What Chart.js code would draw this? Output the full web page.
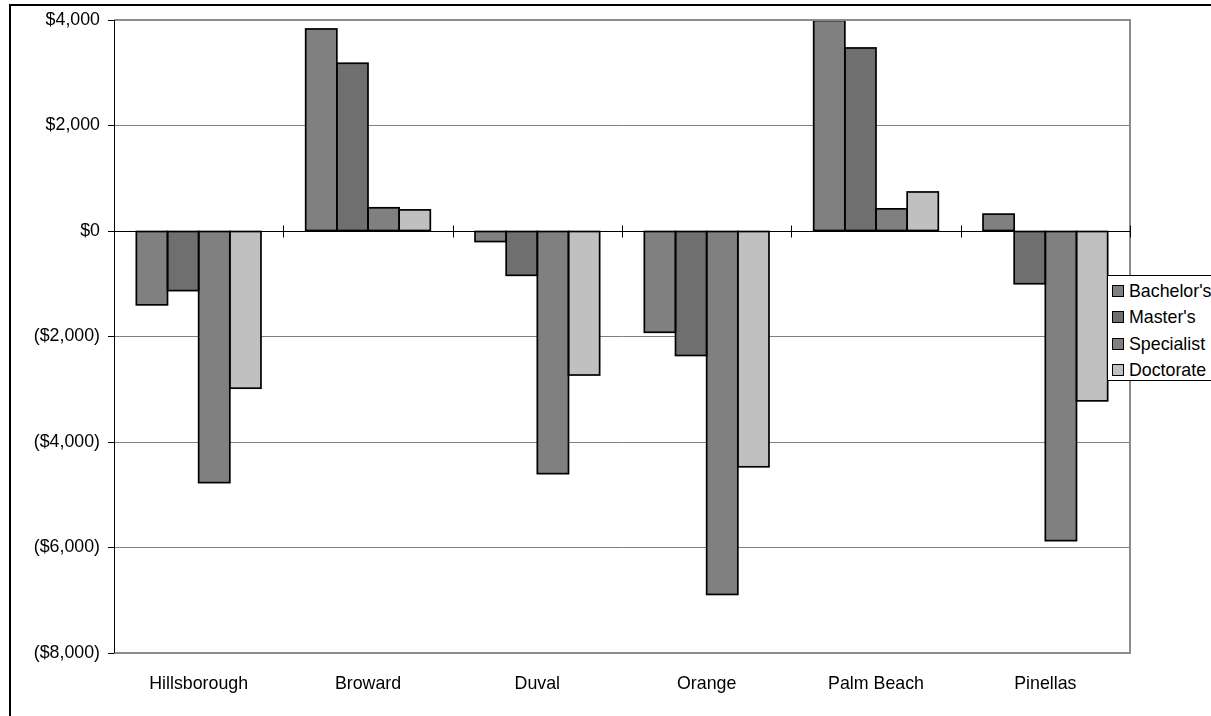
<!DOCTYPE html>
<html>
<head>
<meta charset="utf-8">
<script src="https://cdn.jsdelivr.net/npm/chart.js@4/dist/chart.umd.min.js"></script>
<style>
  html, body { margin: 0; padding: 0; background: #fff; overflow: hidden; }
  #wrap { position: relative; width: 1211px; height: 716px; }
  #frame { position: absolute; left: 9px; top: 4px; width: 1400px; height: 900px;
           border-left: 2px solid #000; border-top: 2px solid #000; pointer-events: none; }
  canvas { position: absolute; left: 0; top: 0; }
  #legend { position: absolute; left: 1107px; top: 275px; width: 140px; height: 106px;
            border: 1px solid #000; background: #fff; box-sizing: border-box;
            font-family: Arial, "Liberation Sans", sans-serif; font-size: 17.8px; color: #000; }
  .li { position: absolute; left: 4px; height: 20px; line-height: 20px; white-space: nowrap; }
  .sw { position: absolute; left: 0; top: 4px; width: 10px; height: 10px; border: 1.5px solid #000; }
  .lt { position: absolute; left: 17px; top: 0; }
</style>
</head>
<body>
<div id="wrap">
  <canvas id="c" width="1211" height="716"></canvas>
  <div id="frame"></div>
  <div id="legend"></div>
</div>
<script>
const categories = ["Hillsborough", "Broward", "Duval", "Orange", "Palm Beach", "Pinellas"];
const seriesNames = ["Bachelor's", "Master's", "Specialist", "Doctorate"];
const bachelors  = [-1400, 3830, -200, -1920, 3990, 320];
const masters    = [-1130, 3180, -840, -2360, 3470, -1000];
const specialist = [-4770, 440, -4600, -6890, 420, -5870];
const doctorate  = [-2980, 400, -2730, -4470, 740, -3220];
const yTicks = [4000, 2000, 0, -2000, -4000, -6000, -8000];
const seriesColors = ["#808080", "#6f6f6f", "#808080", "#c0c0c0"];

const FONT = "Arial, 'Liberation Sans', sans-serif";
const FS = 17.8;

function fmtMoney(v) {
  const s = "$" + Math.abs(v).toLocaleString("en-US");
  return v < 0 ? "(" + s + ")" : s;
}

const frameAndZero = {
  id: "frameAndZero",
  afterDatasetsDraw(chart) {
    const { ctx, chartArea: a, scales: { x, y } } = chart;
    ctx.save();
    // bar outlines, centred on bar edges so neighbours share one line
    ctx.strokeStyle = "#000";
    ctx.lineWidth = 1.7;
    chart.data.datasets.forEach((ds, di) => {
      chart.getDatasetMeta(di).data.forEach(bar => {
        const p = bar.getProps(["x", "y", "base", "width"], true);
        const l = p.x - p.width / 2, r = p.x + p.width / 2;
        const t = Math.min(p.y, p.base), b = Math.max(p.y, p.base);
        ctx.strokeRect(l, t, r - l, b - t);
      });
    });
    // plot area frame (top, right, bottom in gray)
    ctx.strokeStyle = "#8c8c8c";
    ctx.lineWidth = 2;
    ctx.beginPath();
    ctx.moveTo(a.left, a.top); ctx.lineTo(a.right, a.top);
    ctx.lineTo(a.right, a.bottom); ctx.lineTo(a.left, a.bottom);
    ctx.stroke();
    // zero line with cross ticks at category boundaries
    const y0 = Math.round(y.getPixelForValue(0)) + 0.5;
    ctx.strokeStyle = "#000";
    ctx.lineWidth = 1;
    ctx.beginPath();
    ctx.moveTo(a.left, y0); ctx.lineTo(a.right, y0);
    for (let i = 0; i <= categories.length; i++) {
      const px = Math.round(x.getPixelForValue(i - 0.5)) + 0.5;
      ctx.moveTo(px, y0 - 6); ctx.lineTo(px, y0 + 6);
    }
    ctx.stroke();
    // left axis
    ctx.beginPath();
    ctx.moveTo(a.left + 0.5, a.top); ctx.lineTo(a.left + 0.5, a.bottom);
    ctx.stroke();
    ctx.restore();
  }
};

const seriesData = [bachelors, masters, specialist, doctorate];
const chart = new Chart(document.getElementById("c"), {
  type: "bar",
  data: {
    labels: categories,
    datasets: seriesNames.map((n, i) => ({
      label: n,
      data: seriesData[i],
      backgroundColor: seriesColors[i],
      borderWidth: 0,
      inflateAmount: 0,
      barPercentage: 1,
      categoryPercentage: 0.736
    }))
  },
  options: {
    responsive: false,
    animation: false,
    events: [],
    layout: { padding: { left: 0, top: 20, right: 81, bottom: 0 } },
    plugins: { legend: { display: false }, tooltip: { enabled: false } },
    scales: {
      x: {
        position: "bottom",
        grid: { display: false, drawTicks: false },
        border: { display: false },
        ticks: { color: "#000", padding: 20, maxRotation: 0, font: { family: FONT, size: FS } },
        afterFit(s) { s.height = 63; }
      },
      y: {
        min: -8000, max: 4000,
        afterBuildTicks(s) { s.ticks = yTicks.map(v => ({ value: v })); },
        grid: {
          color: (c) => (c.tick && c.tick.value === 0) ? "rgba(0,0,0,0)" : "#808080",
          lineWidth: 1,
          tickLength: 6,
          tickColor: "#000"
        },
        border: { display: true, color: "#000", width: 1 },
        ticks: {
          color: "#000", padding: 8,
          font: { family: FONT, size: FS },
          callback: (v) => fmtMoney(v)
        },
        afterFit(s) { s.width = 114; }
      }
    }
  },
  plugins: [frameAndZero]
});

// HTML legend built from the chart datasets
const leg = document.getElementById("legend");
chart.data.datasets.forEach((ds, i) => {
  const row = document.createElement("div");
  row.className = "li";
  row.style.top = (5 + i * 26.3) + "px";
  const sw = document.createElement("span");
  sw.className = "sw";
  sw.style.background = ds.backgroundColor;
  const t = document.createElement("span");
  t.className = "lt";
  t.textContent = ds.label;
  row.appendChild(sw); row.appendChild(t);
  leg.appendChild(row);
});
</script>
</body>
</html>
